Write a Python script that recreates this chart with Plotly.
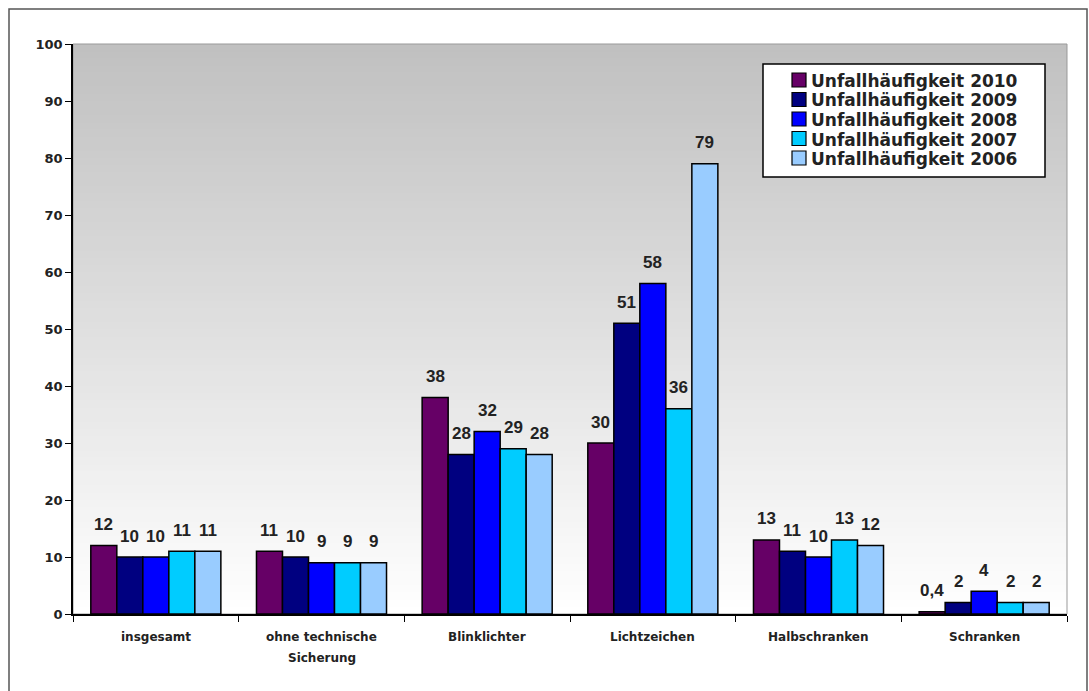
import plotly.graph_objects as go

categories = ["insgesamt", "ohne technische<br>Sicherung", "Blinklichter",
              "Lichtzeichen", "Halbschranken", "Schranken"]
series_names = ["Unfallhäufigkeit 2010", "Unfallhäufigkeit 2009", "Unfallhäufigkeit 2008",
                "Unfallhäufigkeit 2007", "Unfallhäufigkeit 2006"]
v2010 = [12, 11, 38, 30, 13, 0.4]
v2009 = [10, 10, 28, 51, 11, 2]
v2008 = [10, 9, 32, 58, 10, 4]
v2007 = [11, 9, 29, 36, 13, 2]
v2006 = [11, 9, 28, 79, 12, 2]
y_ticks = list(range(0, 101, 10))

series_values = [v2010, v2009, v2008, v2007, v2006]
colors = ["#660066", "#000080", "#0000FF", "#00CCFF", "#99CCFF"]

ARIAL = "Liberation Sans, Arial, sans-serif"
WIDE = "DejaVu Sans, Verdana, sans-serif"
TXT = "#222222"

W, H = 1089, 691
ml, mr, mt, mb = 73, 22, 44, 77
pw, ph = W - ml - mr, H - mt - mb
BARGAP = 0.215
def px_x(p):
    return (p - ml) / pw
def px_y(p):
    return (H - mb - p) / ph

nser = len(series_values)
bar_px = pw / len(categories) * (1 - BARGAP) / nser

fig = go.Figure()
annotations = []
for k, (name, vals, col) in enumerate(zip(series_names, series_values, colors)):
    fig.add_trace(go.Bar(
        name=name, x=categories, y=vals,
        marker=dict(color=col, line=dict(color="#000000", width=1.5)),
        showlegend=False,
    ))
    # value labels above each bar
    for cat, v in zip(categories, vals):
        annotations.append(dict(xref="x", yref="y", x=cat, y=v,
                                xshift=(k - (nser - 1) / 2) * bar_px, yshift=21,
                                xanchor="center", yanchor="middle", showarrow=False,
                                text=("%g" % v).replace(".", ","),
                                font=dict(family=ARIAL, size=17, color=TXT, weight="bold")))

shapes = []
# gradient background strips (plot area)
N = 80
for i in range(N):
    frac = 1 - (i + 0.5) / N
    g = int(round(192 + 63 * frac))
    shapes.append(dict(type="rect", xref="x domain", yref="y domain",
                       x0=0, x1=1, y0=i / N, y1=min((i + 1) / N + 0.002, 1),
                       fillcolor="rgb(%d,%d,%d)" % (g, g, g),
                       line=dict(width=0), layer="below"))
shapes.append(dict(type="rect", xref="x domain", yref="y domain", x0=0, x1=1, y0=0, y1=1,
                   line=dict(color="#999999", width=1), fillcolor="rgba(0,0,0,0)", layer="below"))
# outer frame
shapes.append(dict(type="rect", xref="paper", yref="paper",
                   x0=px_x(9), x1=px_x(1087), y0=px_y(9), y1=px_y(720),
                   line=dict(color="#555555", width=1.5), fillcolor="rgba(0,0,0,0)", layer="below"))

# legend (drawn manually for exact spacing)
shapes.append(dict(type="rect", xref="paper", yref="paper",
                   x0=px_x(763), x1=px_x(1045), y0=px_y(64), y1=px_y(177),
                   line=dict(color="#000000", width=1.5), fillcolor="white", layer="above"))
for k, (name, col) in enumerate(zip(series_names, colors)):
    cy = 80 + 19.5 * k
    shapes.append(dict(type="rect", xref="paper", yref="paper",
                       x0=px_x(792), x1=px_x(806), y0=px_y(cy - 7), y1=px_y(cy + 7),
                       line=dict(color="#000000", width=1.2), fillcolor=col, layer="above"))
    annotations.append(dict(xref="paper", yref="paper", x=px_x(809), y=px_y(cy + 1),
                            xanchor="left", yanchor="middle", showarrow=False, text=name,
                            font=dict(family=WIDE, size=17, color=TXT, weight="bold")))

# category labels
for cat in categories:
    for j, line in enumerate(cat.split("<br>")):
        annotations.append(dict(xref="x", yref="paper", x=cat, y=px_y(637 + 21 * j),
                                xanchor="center", yanchor="middle", showarrow=False, text=line,
                                font=dict(family=WIDE, size=12, color=TXT, weight="bold")))

fig.update_layout(
    width=W, height=H,
    margin=dict(l=ml, r=mr, t=mt, b=mb),
    paper_bgcolor="white", plot_bgcolor="white",
    barmode="group", bargap=BARGAP, bargroupgap=0,
    font=dict(family=ARIAL, color=TXT),
    shapes=shapes, annotations=annotations,
    showlegend=False,
    xaxis=dict(showline=True, linecolor="#000000", linewidth=1.5,
               ticks="outside", tickson="boundaries", ticklen=6, tickcolor="#000000",
               showticklabels=False, showgrid=False, fixedrange=True),
    yaxis=dict(range=[0, 100], tickvals=y_ticks, showline=True, linecolor="#000000",
               linewidth=1.5, ticks="outside", ticklen=6, tickcolor="#000000",
               tickfont=dict(family=WIDE, size=13, color=TXT, weight="bold"),
               showgrid=False, zeroline=False, fixedrange=True),
)

fig.write_html("out.html")
